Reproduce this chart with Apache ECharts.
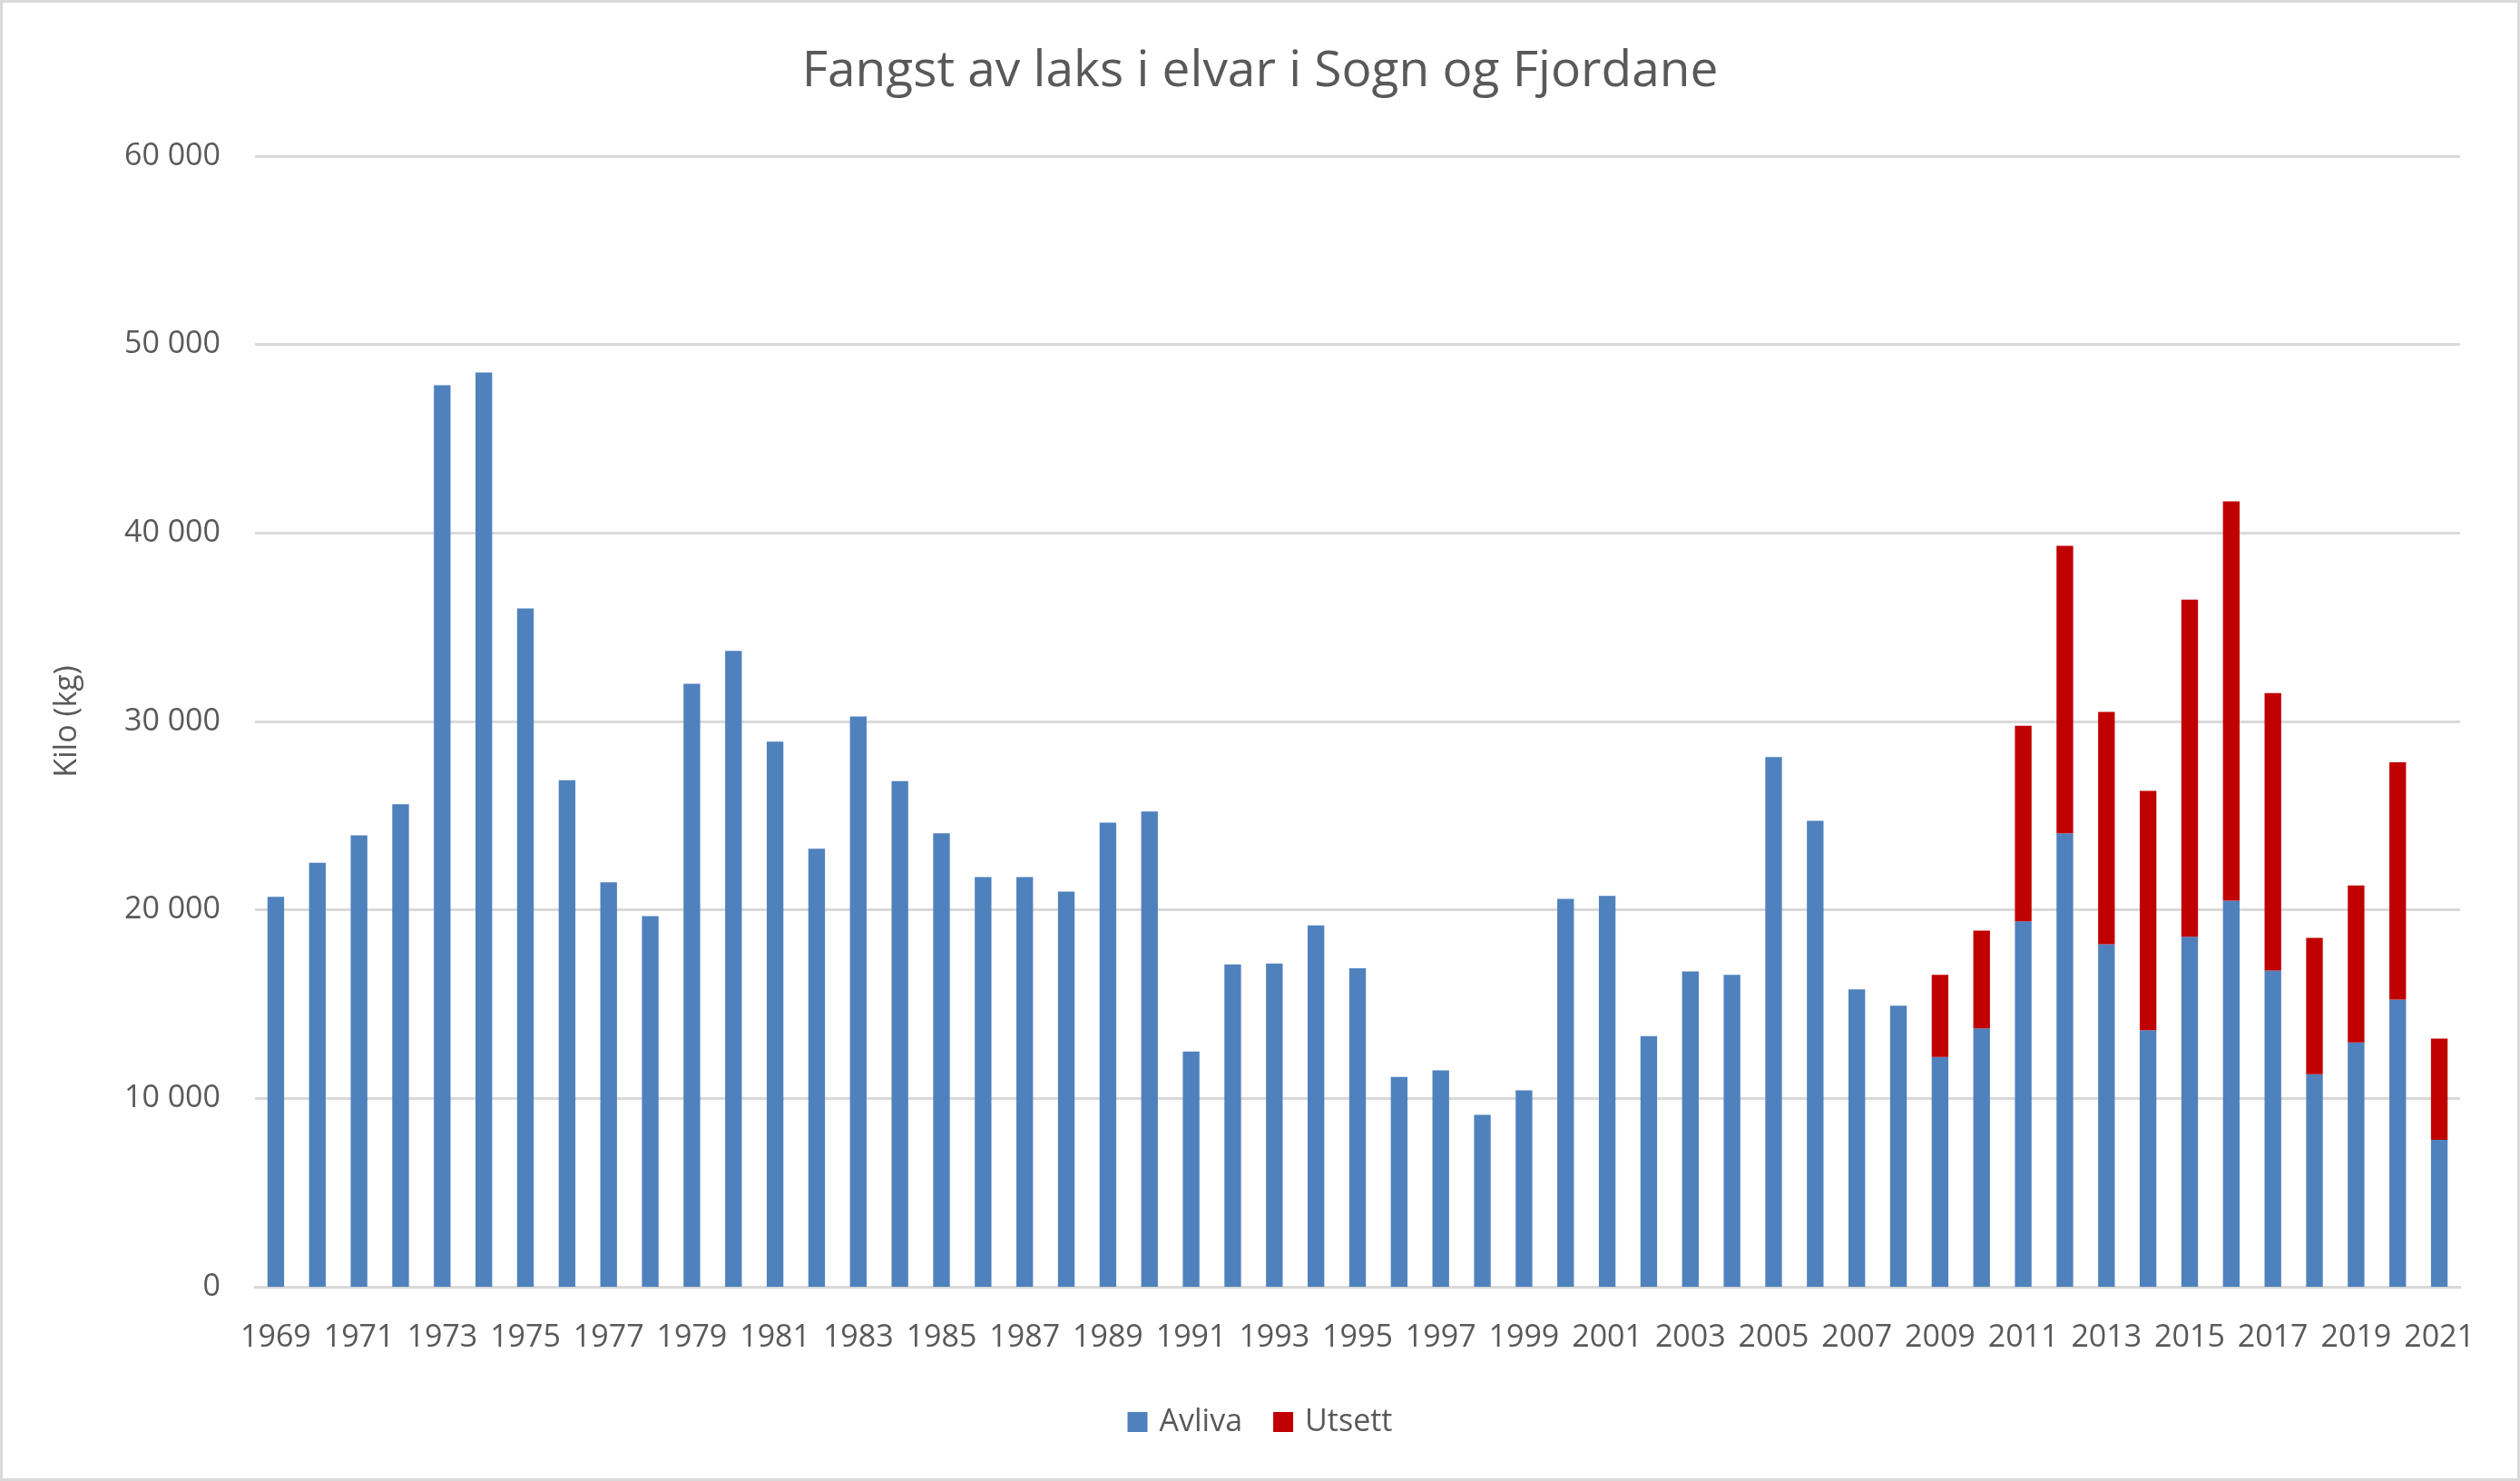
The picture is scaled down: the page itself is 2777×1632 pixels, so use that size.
<!DOCTYPE html>
<html lang="no" style="height: 100%">
<head>
  <meta charset="utf-8">
</head>
<body style="height: 100%; margin: 0; background-color:#ffffff;">
  <div id="container" style="position:absolute; left:0; top:0; right:0; bottom:0; box-sizing:border-box; border:3px solid #d9d9d9;"></div>

<script src="https://cdn.jsdelivr.net/npm/echarts@6/dist/echarts.min.js"></script>

<script>
  var dom = document.getElementById('container');
  var myChart = echarts.init(dom);

  var years = [];
  for (var y = 1969; y <= 2021; y++) years.push(String(y));

  // Avliva (killed) catch in kg, 1969-2021
  var avliva = [
    20700, 22500, 23960, 25600, 47840, 48520, 36000, 26880, 21460, 19670,
    32000, 33750, 28930, 23250, 30260, 26830, 24070, 21740, 21740, 20970,
    24630, 25220, 12480, 17110, 17160, 19180, 16900, 11130, 11480, 9130,
    10430, 20590, 20740, 13300, 16730, 16550, 28110, 24730, 15780, 14910,
    12200, 13710, 19390, 24070, 18180, 13610, 18570, 20490, 16780, 11280,
    12970, 15240, 7800
  ];

  // Utsett (released) catch in kg, only from 2009
  var utsett = [
    0, 0, 0, 0, 0, 0, 0, 0, 0, 0,
    0, 0, 0, 0, 0, 0, 0, 0, 0, 0,
    0, 0, 0, 0, 0, 0, 0, 0, 0, 0,
    0, 0, 0, 0, 0, 0, 0, 0, 0, 0,
    4350, 5190, 10380, 15250, 12320, 12710, 17890, 21190, 14730, 7240,
    8330, 12590, 5370
  ];

  var textColor = '#595959';
  var fontFamily = '"Open Sans", sans-serif';

  var option = {
    animation: false,
    textStyle: { fontFamily: fontFamily, color: textColor },
    title: {
      text: 'Fangst av laks i elvar i Sogn og Fjordane',
      left: 'center',
      top: 44,
      textStyle: { fontFamily: fontFamily, fontSize: 55, fontWeight: 'normal', color: textColor }
    },
    legend: {
      bottom: 40,
      left: 'center',
      itemWidth: 22,
      itemHeight: 22,
      itemGap: 34,
      icon: 'rect',
      textStyle: { fontFamily: fontFamily, fontSize: 34, color: textColor, padding: [0, 0, 0, 8] },
      data: ['Avliva', 'Utsett']
    },
    grid: {
      left: 278,
      right: 63,
      top: 169,
      bottom: 211
    },
    xAxis: {
      type: 'category',
      data: years,
      axisTick: { show: false },
      axisLine: { lineStyle: { color: '#d9d9d9', width: 3 } },
      axisLabel: {
        interval: 1,
        margin: 39,
        fontSize: 34,
        color: textColor,
        fontFamily: fontFamily
      }
    },
    yAxis: {
      type: 'value',
      min: 0,
      max: 60000,
      interval: 10000,
      name: 'Kilo (kg)',
      nameLocation: 'middle',
      nameGap: 190,
      nameTextStyle: { fontSize: 34, color: textColor, fontFamily: fontFamily },
      axisLine: { show: false },
      axisTick: { show: false },
      splitLine: { lineStyle: { color: '#d9d9d9', width: 3 } },
      axisLabel: {
        margin: 38,
        fontSize: 34,
        color: textColor,
        fontFamily: fontFamily,
        formatter: function (v) {
          return String(v).replace(/\B(?=(\d{3})+(?!\d))/g, ' ');
        }
      }
    },
    series: [
      {
        name: 'Avliva',
        type: 'bar',
        stack: 'fangst',
        barWidth: '40%',
        itemStyle: { color: '#4f81bd' },
        data: avliva
      },
      {
        name: 'Utsett',
        type: 'bar',
        stack: 'fangst',
        barWidth: '40%',
        itemStyle: { color: '#c00000' },
        data: utsett
      }
    ]
  };

  myChart.setOption(option);
  window.addEventListener('resize', myChart.resize);
</script>

</body>
</html>
